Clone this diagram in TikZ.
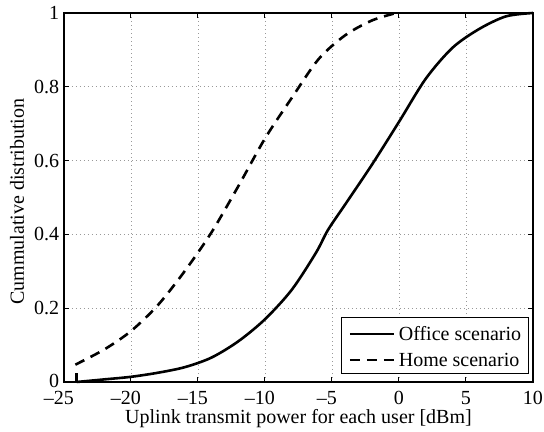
\documentclass[tikz,border=0pt]{standalone}
\usepackage{fontspec}
\setmainfont{Liberation Serif}

\tikzset{
  gridline/.style={gray!80, line width=0.6pt, dash pattern=on 0.8pt off 3.2pt},
  office/.style={line width=2.6pt},
  home/.style={line width=2.6pt, dash pattern=on 10pt off 7pt},
  ticklab/.style={inner sep=0pt},
}

\begin{document}
\begin{tikzpicture}[x=13.4pt, y=369pt, font=\fontsize{20}{24}\selectfont]
%\draw [help lines] (-25,0) grid (10,1);
\useasboundingbox (-29.776,-0.1355) rectangle (10.821,1.0352);
\draw [gridline] (-20,0) -- (-20,1) (-15,0) -- (-15,1) (-10,0) -- (-10,1)
  (-5,0) -- (-5,1) (0,0) -- (0,1) (5,0) -- (5,1);
\draw [gridline] (-25,0.2) -- (10,0.2) (-25,0.4) -- (10,0.4)
  (-25,0.6) -- (10,0.6) (-25,0.8) -- (10,0.8);
\draw [office, line cap=butt] (-24.05,0.024) -- (-24.05,0);
\draw [office] plot [smooth] coordinates {(-24.05,0) (-22,0.007) (-20,0.014)
  (-18,0.025) (-16,0.04) (-14,0.066) (-12,0.11) (-10,0.17) (-8,0.25)
  (-6.2,0.35) (-5.3,0.412) (-4,0.482) (-2,0.59) (0,0.705) (2,0.822) (4,0.906)
  (6,0.957) (8,0.991) (10,1)};
\draw [home] plot [smooth] coordinates {(-24.15,0.047) (-22,0.088)
  (-20,0.138) (-18,0.208) (-16,0.3) (-14,0.405) (-12,0.53) (-10,0.66)
  (-8,0.77) (-6,0.875) (-4,0.94) (-2,0.98) (-0.2,1)};
% legend
\draw [line width=1.3pt, fill=white] (-4.28,0.0236) rectangle (9.65,0.1753);
\node [anchor=west, inner sep=5pt] (leg office) at (-0.40,0.130) {Office scenario};
\node [anchor=west, inner sep=5pt] (leg home) at (-0.40,0.0596) {Home scenario};
\coordinate (lo) at (-3.66,0.130);
\coordinate (lh) at (-3.66,0.0596);
\draw [office] (lo) -- (leg office.west);
\draw [home] (lh) -- (leg home.west);
% axes
\draw [line width=1.3pt] (-25,0) rectangle (10,1);
\draw [line width=1pt] (-20,0) -- ++(0,0.0136) (-15,0) -- ++(0,0.0136)
  (-10,0) -- ++(0,0.0136) (-5,0) -- ++(0,0.0136) (0,0) -- ++(0,0.0136)
  (5,0) -- ++(0,0.0136);
\draw [line width=1pt] (-20,1) -- ++(0,-0.0136) (-15,1) -- ++(0,-0.0136)
  (-10,1) -- ++(0,-0.0136) (-5,1) -- ++(0,-0.0136) (0,1) -- ++(0,-0.0136)
  (5,1) -- ++(0,-0.0136);
\draw [line width=1pt] (-25,0.2) -- ++(0.373,0) (-25,0.4) -- ++(0.373,0)
  (-25,0.6) -- ++(0.373,0) (-25,0.8) -- ++(0.373,0);
\draw [line width=1pt] (10,0.2) -- ++(-0.373,0) (10,0.4) -- ++(-0.373,0)
  (10,0.6) -- ++(-0.373,0) (10,0.8) -- ++(-0.373,0);
\node [ticklab, anchor=base] (xt1) at (-25,-0.0623) {\llap{\textendash}25};
\node [ticklab, anchor=base] (xt2) at (-20,-0.0623) {\llap{\textendash}20};
\node [ticklab, anchor=base] (xt3) at (-15,-0.0623) {\llap{\textendash}15};
\node [ticklab, anchor=base] (xt4) at (-10,-0.0623) {\llap{\textendash}10};
\node [ticklab, anchor=base] (xt5) at (-5,-0.0623) {\llap{\textendash}5};
\node [ticklab, anchor=base] (xt6) at (0,-0.0623) {0};
\node [ticklab, anchor=base] (xt7) at (5,-0.0623) {5};
\node [ticklab, anchor=base] (xt8) at (10,-0.0623) {10};
\node [ticklab, anchor=east] (yt1) at (-25.34,0.004) {0};
\node [ticklab, anchor=east] (yt2) at (-25.34,0.2) {0.2};
\node [ticklab, anchor=east] (yt3) at (-25.34,0.4) {0.4};
\node [ticklab, anchor=east] (yt4) at (-25.34,0.6) {0.6};
\node [ticklab, anchor=east] (yt5) at (-25.34,0.8) {0.8};
\node [ticklab, anchor=east] (yt6) at (-25.34,1) {1};
\node [anchor=base] (xlab) at (-7.5,-0.113) {Uplink transmit power for each user [dBm]};
\node [rotate=90, anchor=base] (ylab) at (-27.985,0.489) {Cummulative distribution};
\end{tikzpicture}
\end{document}
